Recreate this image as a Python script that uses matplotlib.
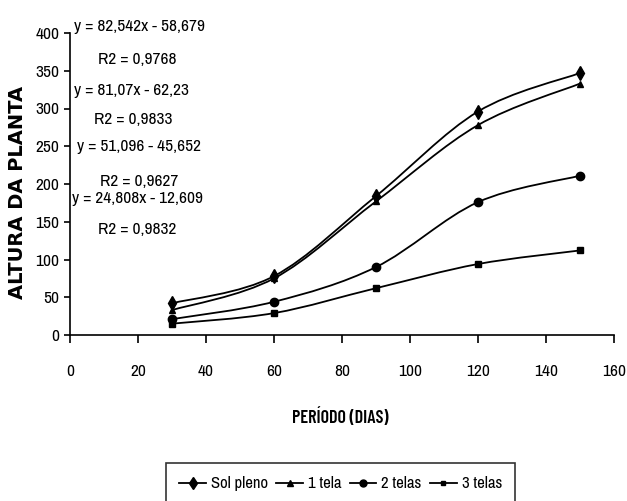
import numpy as np
import matplotlib
matplotlib.use("Agg")
import matplotlib.pyplot as plt
from matplotlib.path import Path
from matplotlib.patches import PathPatch
from matplotlib.lines import Line2D

# dados
dias = [30, 60, 90, 120, 150]
sol_pleno = [42, 78, 184, 296, 347]
tela1 = [33, 75, 177, 278, 333]
tela2 = [21, 44, 90, 176, 211]
tela3 = [15, 29, 62, 94, 112]
series = [sol_pleno, tela1, tela2, tela3]
nomes = ["Sol pleno", "1 tela", "2 telas", "3 telas"]
marcadores = ["d", "^", "o", "s"]
tamanhos = [7, 5, 6, 4]

equacoes = ["y = 82,542x - 58,679", "R2 = 0,9768",
            "y = 81,07x - 62,23", "R2 = 0,9833",
            "y = 51,096 - 45,652", "R2 = 0,9627",
            "y = 24,808x - 12,609", "R2 = 0,9832"]

fonte = ["Archivo Narrow", "DejaVu Sans"]
plt.rcParams["font.family"] = fonte

W, H = 627, 501
fig = plt.figure(figsize=(W / 100, H / 100), dpi=100)
ax = fig.add_axes([70 / W, 1 - 335 / H, 544 / W, 302 / H])


# curva suavizada (bezier, como no excel)
def curva(x, y):
    p = np.column_stack([x, y]).astype(float)
    n = len(p)
    verts = [p[0]]
    codes = [Path.MOVETO]
    for i in range(n - 1):
        a = p[i - 1] if i > 0 else p[i]
        b = p[i + 2] if i + 2 < n else p[i + 1]
        c1 = p[i] + (p[i + 1] - a) / 6
        c2 = p[i + 1] - (b - p[i]) / 6
        verts += [c1, c2, p[i + 1]]
        codes += [Path.CURVE4] * 3
    return Path(verts, codes)


handles = []
for s, nome, m, ms in zip(series, nomes, marcadores, tamanhos):
    ax.add_patch(PathPatch(curva(dias, s), facecolor="none", edgecolor="black", lw=1.3))
    ax.plot(dias, s, linestyle="none", marker=m, ms=ms, color="black")
    handles.append(Line2D([], [], color="black", lw=1.3, marker=m, ms=ms - 1, label=nome))

ax.set_xlim(0, 160)
ax.set_ylim(0, 400)
ax.set_xticks(range(0, 161, 20))
ax.set_yticks(range(0, 401, 50))
ax.spines["top"].set_visible(False)
ax.spines["right"].set_visible(False)
ax.spines["left"].set_linewidth(1.2)
ax.spines["bottom"].set_linewidth(1.2)
ax.tick_params(axis="x", length=6, width=1.2, pad=15, labelsize=12.5)
ax.tick_params(axis="y", length=4, width=1.2, pad=3.5, labelsize=12.5)

fig.text(340 / W, 1 - 418 / H, "PERÍODO (DIAS)", ha="center", va="center",
         fontsize=13, fontweight="semibold", family="Barlow Condensed")
fig.text(18 / W, 1 - 192 / H, "ALTURA DA PLANTA", ha="center", va="center",
         rotation=90, fontsize=14, fontweight="bold", family="DejaVu Sans")

ys = [27, 60, 90, 120, 147, 182, 198, 230]
xs = [140, 137, 132, 133, 139, 139, 138, 137]
for t, x, y in zip(equacoes, xs, ys):
    fig.text(x / W, 1 - y / H, t, ha="center", va="center", fontsize=12.5)

leg = fig.legend(handles=handles, loc="upper center", bbox_to_anchor=(340.5 / W, 1 - 463 / H),
                 ncol=4, fontsize=12, frameon=True, fancybox=False, edgecolor="black",
                 handlelength=1.6, handletextpad=0.3, columnspacing=0.5, borderpad=0.8,
                 borderaxespad=0)
leg.get_frame().set_linewidth(1.2)

fig.savefig("out.png", dpi=100)
